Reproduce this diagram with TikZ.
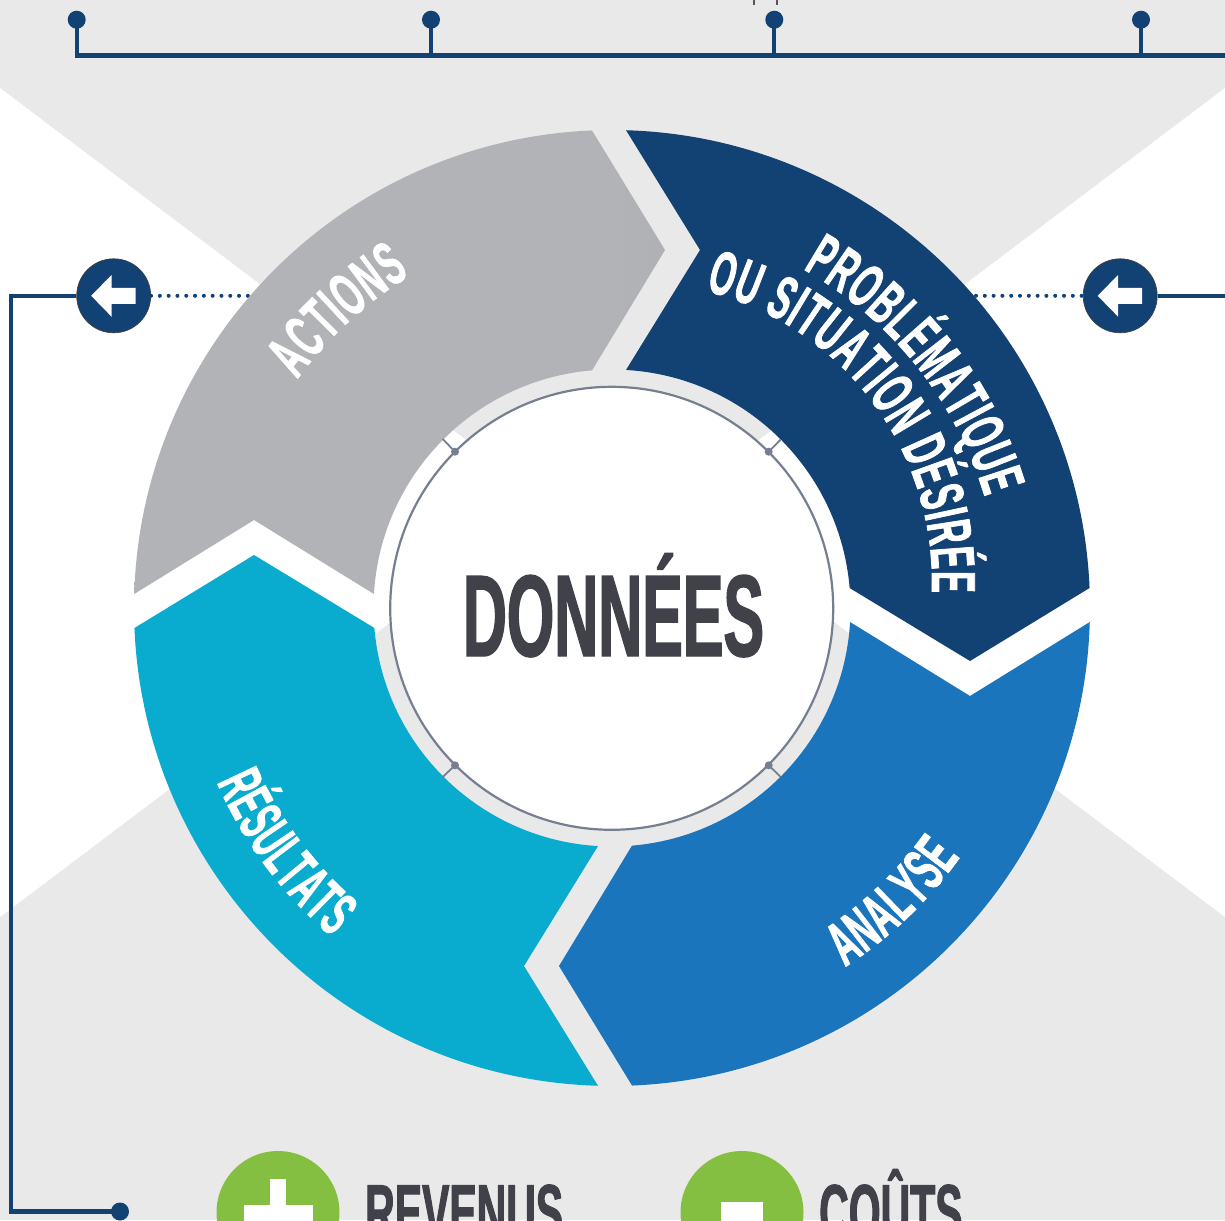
\documentclass[tikz,border=0pt]{standalone}
\usepackage{fontspec}
\usetikzlibrary{decorations.text}
\newfontfamily\bebas[FakeStretch=0.525,FakeBold=1.2]{Liberation Sans}
\newfontfamily\bebasn[FakeStretch=0.5,FakeBold=1.2]{Liberation Sans}
\definecolor{bggrey}{HTML}{E9E9E9}
\definecolor{navy}{HTML}{124173}
\definecolor{segblue}{HTML}{1B75BC}
\definecolor{segcyan}{HTML}{09ABCF}
\definecolor{seggrey}{HTML}{B2B3B6}
\definecolor{seggreyb}{HTML}{A5A6A9}
\definecolor{ink}{HTML}{414149}
\definecolor{leaf}{HTML}{84BF41}
\definecolor{ringline}{HTML}{767F90}
\pgfdeclarehorizontalshading{greyseg}{100bp}{color(0bp)=(seggrey);color(70bp)=(seggrey);color(100bp)=(seggreyb)}
\newcommand{\segpath}{(88.32:478) arc[start angle=88.32,end angle=2.4,radius=478] -- (358,-53) -- (4.8:238.5) arc[start angle=4.8,end angle=86.63,radius=238.5] -- (88,358) -- cycle}
\tikzset{
  wire/.style={navy,line width=4.2pt},
  pindot/.style={circle,fill=navy,minimum size=18pt,inner sep=0pt},
  arrowdisc/.style={circle,fill=navy,draw=black!75,line width=0.7pt,minimum size=74pt,inner sep=0pt},
  dotline/.style={navy,line width=4pt,line cap=round,dash pattern=on 0pt off 8.8pt},
  ringdot/.style={circle,fill=ringline,minimum size=8pt,inner sep=0pt},
  ringtick/.style={ringline,line width=1.8pt},
  plate/.style={circle,fill=leaf,minimum size=123pt,inner sep=0pt},
  title/.style={inner sep=0pt,text=ink,font=\bebas\bfseries},
  curved/.style={decorate,decoration={text along path,text align={fit to path},text color=white,text={#1}}},
  pics/backarrow/.style={code={\fill[white] (-22.5,0) -- (-2,21) -- (-2,8) -- (22,8) -- (22,-8) -- (-2,-8) -- (-2,-21) -- cycle;}}
}
\begin{document}
\begin{tikzpicture}[x=1pt,y=1pt]
\useasboundingbox (0,-1220) rectangle (1225,0);
\clip (0,-1220) rectangle (1225,0);
\fill[bggrey] (0,-1220) rectangle (1225,0);
% white wedges
\fill[white] (0,-88) -- (549,-502.5) -- (0,-917) -- cycle;
\fill[white] (1225,-88) -- (676,-502.5) -- (1225,-917) -- cycle;
% top rail
\node[pindot] (p1) at (76.7,-19.7) {};
\node[pindot] (p2) at (431,-19.7) {};
\node[pindot] (p3) at (774.3,-19.7) {};
\node[pindot] (p4) at (1141,-19.7) {};
\coordinate (railend) at (1225,-55.5);
\draw[wire] (p1.center) |- (railend);
\draw[wire] (p2.center) -- (p2.center|-railend);
\draw[wire] (p3.center) -- (p3.center|-railend);
\draw[wire] (p4.center) -- (p4.center|-railend);
\draw[ink!90,line width=2.6pt] (754,0) -- (754,-5);
\draw[ink!90,line width=2.6pt] (777,0) -- (777,-5);
% arrow discs and wires
\node[arrowdisc] (lc) at (113.7,-295.8) {};
\node[arrowdisc] (rc) at (1120.2,-295.8) {};
\path pic at (lc.center) {backarrow};
\path pic at (rc.center) {backarrow};
\coordinate (ldots) at (248,-295.8);
\coordinate (rdots) at (976,-295.8);
\draw[dotline] (lc.east) -- (ldots);
\draw[dotline] (rdots) -- (rc.west);
\node[pindot] (bd) at (120,-1211.5) {};
\coordinate (wtl) at (11.3,-295.8);
\coordinate (wbl) at (11.3,-1211.5);
\coordinate (wr) at (1225,-295.8);
\draw[wire] (lc.west) -- (wtl) -- (wbl) -- (bd.center);
\draw[wire] (rc.east) -- (wr);
% ring segments
\begin{scope}[shift={(612,-608)}]
  \fill[navy] \segpath;
  \begin{scope}[rotate=270]\fill[segblue] \segpath;\end{scope}
  \begin{scope}[rotate=180]\fill[segcyan] \segpath;\end{scope}
  \begin{scope}[rotate=90]\shade[shading=greyseg] \segpath;\end{scope}
  \path[curved={|\bebas\bfseries\fontsize{62}{62}\selectfont|PROBLÉMATIQUE}] (60.6:389) arc[start angle=60.6,end angle=16.6,radius=389];
  \path[curved={|\bebas\bfseries\fontsize{62}{62}\selectfont|ACTIONS}] (144:389) arc[start angle=144,end angle=121.3,radius=389];
  \path[curved={|\bebasn\bfseries\fontsize{62}{62}\selectfont|RÉSULTATS}] (203.8:432) arc[start angle=203.8,end angle=229.6,radius=432];
  \path[curved={|\bebas\bfseries\fontsize{62}{62}\selectfont|ANALYSE}] (303:428) arc[start angle=303,end angle=324.4,radius=428];
\end{scope}
\begin{scope}[shift={(633,-581)}]
  \path[curved={|\bebas\bfseries\fontsize{62}{62}\selectfont|OU SITUATION DÉSIRÉE}] (76:299) arc[start angle=76,end angle=-2.2,radius=299];
\end{scope}
% centre
\node[circle,fill=white,draw=ringline,line width=2.2pt,minimum size=443pt,inner sep=0pt] (core) at (611.7,-608.3) {};
\node[ringdot] (d1) at (455,-451.7) {};
\node[ringdot] (d2) at (768.7,-451.7) {};
\node[ringdot] (d3) at (455,-765.3) {};
\node[ringdot] (d4) at (768.7,-765.3) {};
\coordinate (t1) at (442.7,-439);
\coordinate (t2) at (780.7,-439.5);
\coordinate (t3) at (442.7,-777);
\coordinate (t4) at (780.7,-777);
\draw[ringtick] (d1.center) -- (t1);
\draw[ringtick] (d2.center) -- (t2);
\draw[ringtick] (d3.center) -- (t3);
\draw[ringtick] (d4.center) -- (t4);
\node[title,anchor=base,font=\bebas\bfseries\fontsize{116}{116}\selectfont] (donnees) at (613.5,-656) {DONNÉES};
% bottom legend
\node[plate] (plus) at (278,-1212.5) {};
\node[plate] (minus) at (742,-1212.5) {};
\fill[white] (270,-1179) rectangle (286,-1205);
\fill[white] (244,-1205) rectangle (312.5,-1221);
\fill[white] (721,-1202) rectangle (763,-1221);
\node[title,anchor=base west,font=\bebas\bfseries\fontsize{78}{78}\selectfont] (revenus) at (365,-1239) {REVENUS};
\node[title,anchor=base west,font=\bebas\bfseries\fontsize{78}{78}\selectfont] (couts) at (819,-1239) {COÛTS};
\end{tikzpicture}
\end{document}
